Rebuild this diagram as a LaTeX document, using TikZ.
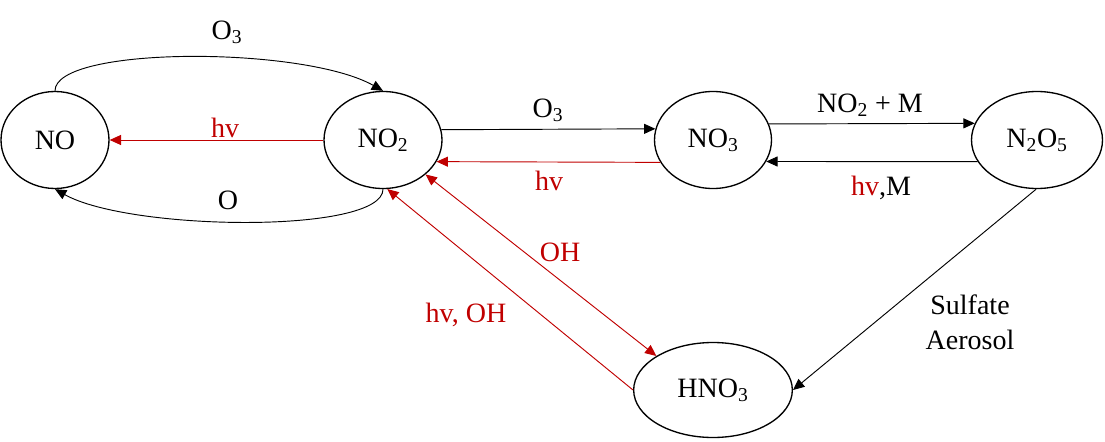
\documentclass[tikz,border=0pt]{standalone}
\usepackage{fontspec}
\setmainfont{Liberation Serif}
\usetikzlibrary{shapes,arrows.meta}
\definecolor{hvred}{HTML}{C00000}

\begin{document}
\begin{tikzpicture}[x=0.75pt,y=-0.75pt]
\tikzstyle{species}=[ellipse, draw, line width=1pt, inner sep=0pt,
  minimum height=72.75pt, font=\fontsize{21}{25}\selectfont]
\tikzstyle{react}=[-{Triangle[length=8.5pt,width=7.5pt]}, line width=0.7pt]
\tikzstyle{photo}=[react, hvred]
\tikzstyle{lbl}=[inner sep=0pt, font=\fontsize{21}{26}\selectfont]
\useasboundingbox (0,0) rectangle (1105,442);
% species
\node[species, minimum width=81pt] (no) at (55,140) {NO};
\node[species, minimum width=88.5pt] (notwo) at (383,140) {NO\textsubscript{2}};
\node[species, minimum width=87.75pt] (nothree) at (713,140) {NO\textsubscript{3}};
\node[species, minimum width=98.25pt] (ntwoofive) at (1037,140) {N\textsubscript{2}O\textsubscript{5}};
\node[species, minimum width=119pt, minimum height=71.25pt] (hno) at (713,390) {HNO\textsubscript{3}};
% reactions
\draw[react] (no.north) .. controls +(0,-45) and +(-80,-45) .. (notwo.north);
\draw[react] (notwo.south) .. controls +(0,45) and +(75,42) .. (no.south);
\draw[photo] (notwo.west) -- (no.east);
\draw[react] (notwo.10.8) -- (nothree.169.1);
\draw[photo] (nothree.-157.1) -- (notwo.-22.7);
\draw[react] (nothree.16.2) -- (ntwoofive.165.5);
\draw[react] (ntwoofive.200.6) -- (nothree.-22.9);
\draw[photo, {Triangle[length=8.5pt,width=7.5pt]}-{Triangle[length=8.5pt,width=7.5pt]}]
  (notwo.-39) -- (hno.149);
\draw[photo] (hno.west) -- (notwo.-85);
\draw[react] (ntwoofive.-91) -- (hno.east);
% labels
\node[lbl] (lozonetop) at (227,32) {O\textsubscript{3}};
\node[lbl, hvred] (lhvleft) at (225,128) {hv};
\node[lbl] (lo) at (228,200) {O};
\node[lbl] (lozone) at (548,110) {O\textsubscript{3}};
\node[lbl, hvred] (lhvmid) at (549,181) {hv};
\node[lbl] (lnotwom) at (870,105) {NO\textsubscript{2} + M};
\node[lbl] (lhvm) at (881,188) {{\color{hvred}hv},M};
\node[lbl, hvred] (loh) at (560,252) {OH};
\node[lbl, hvred] (lhvoh) at (466,315) {hv, OH};
\node[lbl, align=center] (laerosol) at (970,322) {Sulfate\\Aerosol};
\end{tikzpicture}
\end{document}
